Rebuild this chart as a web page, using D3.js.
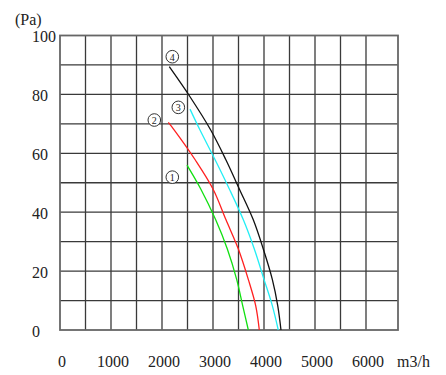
<!DOCTYPE html>
<html>
<head>
<meta charset="utf-8">
<script src="https://cdn.jsdelivr.net/npm/d3@7"></script>
<style>
  body { margin: 0; background: #fff; }
  text { font-family: "Liberation Serif", "DejaVu Serif", serif; fill: #222; }
</style>
</head>
<body>
<div id="chart"></div>
<script>
////////////////////////////////////////////////////////////
//////////////////////// Data //////////////////////////////
////////////////////////////////////////////////////////////
var flowTicks = [0, 1000, 2000, 3000, 4000, 5000, 6000];
var pressureTicks = [0, 20, 40, 60, 80, 100];
var flowGrid = [500, 1000, 1500, 2000, 2500, 3000, 3500, 4000, 4500, 5000, 5500, 6000];
var pressureGrid = [10, 20, 30, 40, 50, 60, 70, 80, 90];

// curve 1 (green)
var flow1 = [2490, 2760, 3053, 3281, 3464, 3582, 3693];
var pa1   = [56.0, 47.9, 37.4, 27.5, 17.2, 8.3, 0];
// curve 2 (red)
var flow2 = [2124, 2241, 2647, 3000, 3255, 3497, 3692, 3837, 3908];
var pa2   = [70.5, 67.9, 57.9, 47.9, 37.4, 27.5, 17.2, 8.3, 0];
// curve 3 (cyan)
var flow3 = [2549, 2745, 3039, 3320, 3595, 3810, 4000, 4163, 4280];
var pa3   = [75.0, 67.9, 57.9, 47.9, 37.4, 27.5, 17.2, 8.3, 0];
// curve 4 (black)
var flow4 = [2143, 2549, 2955, 3250, 3516, 3790, 3986, 4163, 4269, 4333];
var pa4   = [89.4, 79.2, 67.9, 57.9, 47.9, 37.4, 27.5, 17.2, 8.3, 0];

// circled labels
var markerNames = ["1", "2", "3", "4"];
var markerFlow  = [2202, 1849, 2320, 2202];
var markerPa    = [51.9, 71.3, 75.6, 92.8];

var colors = ["#10e010", "#ff2020", "#22eef5", "#111111"];

////////////////////////////////////////////////////////////
//////////////////////// Set-Up ////////////////////////////
////////////////////////////////////////////////////////////
var width = 446, height = 375;
var plotLeft = 60, plotRight = 398, plotTop = 35.5, plotBottom = 330;

var svg = d3.select("#chart").append("svg")
            .attr("width", width)
            .attr("height", height);

var x = d3.scaleLinear().domain([0, 6000]).range([plotLeft, 366]);
var y = d3.scaleLinear().domain([0, 100]).range([plotBottom, plotTop]);

// Grid
var grid = svg.append("g").classed("grid", true)
              .style("stroke", "#3a3a3a")
              .style("stroke-width", 1.3);

grid.selectAll(".vline")
    .data(flowGrid)
    .enter().append("line")
    .attr("class", "vline")
    .attr("x1", function(d) { return x(d); })
    .attr("x2", function(d) { return x(d); })
    .attr("y1", plotTop)
    .attr("y2", plotBottom);

grid.selectAll(".hline")
    .data(pressureGrid)
    .enter().append("line")
    .attr("class", "hline")
    .attr("x1", plotLeft)
    .attr("x2", plotRight)
    .attr("y1", function(d) { return y(d); })
    .attr("y2", function(d) { return y(d); });

// Frame
svg.append("rect")
   .attr("x", plotLeft)
   .attr("y", plotTop)
   .attr("width", plotRight - plotLeft)
   .attr("height", plotBottom - plotTop)
   .style("fill", "none")
   .style("stroke", "#666")
   .style("stroke-width", 1.8);

// Y labels
svg.selectAll(".ylab")
   .data(pressureTicks)
   .enter().append("text")
   .attr("class", "ylab")
   .attr("x", 32)
   .attr("y", function(d) { return y(d) + 1; })
   .attr("dominant-baseline", "central")
   .style("font-size", "16px")
   .text(function(d) { return d; });

svg.append("text")
   .attr("x", 15)
   .attr("y", 25)
   .style("font-size", "16px")
   .text("(Pa)");

// X labels
svg.selectAll(".xlab")
   .data(flowTicks)
   .enter().append("text")
   .attr("class", "xlab")
   .attr("x", function(d) { return x(d) + 2; })
   .attr("y", 361)
   .attr("text-anchor", "middle")
   .attr("dominant-baseline", "central")
   .style("font-size", "16px")
   .text(function(d) { return d; });

svg.append("text")
   .attr("x", 397)
   .attr("y", 361)
   .attr("dominant-baseline", "central")
   .style("font-size", "16px")
   .text("m3/h");

////////////////////////////////////////////////////////////
//////////////////////// Curves ////////////////////////////
////////////////////////////////////////////////////////////
var line = d3.line()
             .x(function(d) { return x(d[0]); })
             .y(function(d) { return y(d[1]); })
             .curve(d3.curveCatmullRom.alpha(0.5));

var curves = [[flow1, pa1], [flow2, pa2], [flow3, pa3], [flow4, pa4]];

svg.selectAll(".curve")
   .data(curves)
   .enter().append("path")
   .attr("class", "curve")
   .attr("d", function(c) { return line(d3.zip(c[0], c[1])); })
   .style("fill", "none")
   .style("stroke", function(d, i) { return colors[i]; })
   .style("stroke-width", 1.3);

// Circled numbers
var marks = svg.selectAll(".marker")
               .data(markerNames)
               .enter().append("g")
               .attr("class", "marker")
               .attr("transform", function(d, i) {
                   return "translate(" + x(markerFlow[i]) + "," + y(markerPa[i]) + ")";
               });

marks.append("circle")
     .attr("r", 6.3)
     .style("fill", "#fff")
     .style("stroke", "#333")
     .style("stroke-width", 1);

marks.append("text")
     .attr("text-anchor", "middle")
     .attr("dominant-baseline", "central")
     .attr("dy", 0.5)
     .style("font-size", "10px")
     .text(function(d) { return d; });
</script>
</body>
</html>
